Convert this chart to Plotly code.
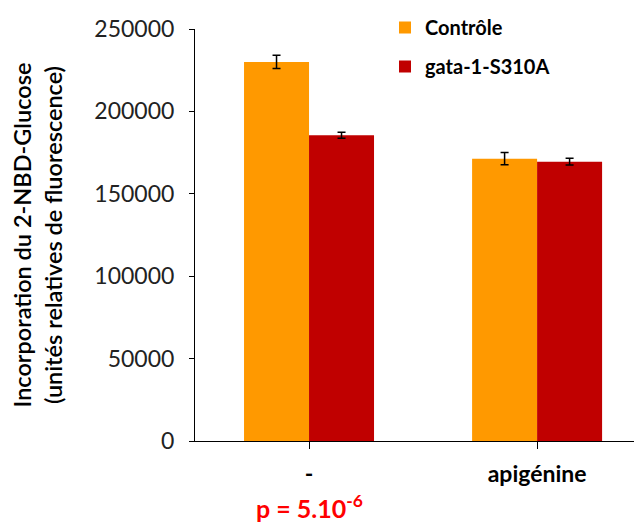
import plotly.graph_objects as go

categories = ["-", "apigénine"]
series_names = ["Contrôle", "gata-1-S310A"]
controle = [230000, 171300]
controle_err = [4000, 3700]
gata = [185500, 169500]
gata_err = [1800, 2000]
colors = ["#FF9900", "#C00000"]
y_ticks = [0, 50000, 100000, 150000, 200000, 250000]

FONT = "Lato"
W, H = 634, 514
L, T, B, R = 187, 21, 81, 0
PW, PH = W - L - R, H - T - B

fig = go.Figure()
for i, (name, vals, errs) in enumerate(zip(series_names, [controle, gata], [controle_err, gata_err])):
    fig.add_trace(go.Bar(
        x=[0, 1], y=vals, name=name, marker_color=colors[i],
        marker_line_width=0,
        error_y=dict(type="data", array=errs, color="black", thickness=1.5, width=4),
        legendgroup=name,
    ))

fig.update_layout(
    width=W, height=H,
    margin=dict(l=L, r=R, t=T, b=B, autoexpand=False),
    plot_bgcolor="white", paper_bgcolor="white",
    barmode="group", bargap=0.43, bargroupgap=0,
    font=dict(family=FONT, color="#222222"),
    legend=dict(x=(377 - L) / PW, y=1 + T / PH, xref="paper", yref="paper",
                xanchor="left", yanchor="top",
                font=dict(size=20, family=FONT, weight="bold", color="black"),
                tracegroupgap=10, bgcolor="rgba(0,0,0,0)", itemwidth=30),
    xaxis=dict(
        range=[-0.5, 1.46], tickmode="array", tickvals=[0, 1], ticktext=categories,
        tickfont=dict(size=23, family=FONT, weight="bold", color="black"),
        showline=True, linecolor="black", linewidth=1,
        ticks="outside", ticklen=7, tickcolor="black", tickson="boundaries",
        ticklabelstandoff=5, showgrid=False, zeroline=False,
    ),
    yaxis=dict(
        range=[0, 250000], tickvals=y_ticks, ticktext=[str(v) for v in y_ticks],
        tickfont=dict(size=23, family=FONT, color="#222222"),
        showline=True, linecolor="black", linewidth=1,
        ticks="outside", ticklen=5, tickcolor="black",
        ticklabelstandoff=10, showgrid=False, zeroline=False,
        title=dict(text="Incorporation du 2-NBD-Glucose<br>(unités relatives de fluorescence)",
                   font=dict(size=23.5, family=FONT, color="black", weight=600), standoff=30),
    ),
    annotations=[dict(
        x=0, y=-0.158, xref="x", yref="paper", showarrow=False,
        text="p = 5.10<sup>-6</sup>", font=dict(size=25, family=FONT, weight="bold", color="#FF0000"),
        yanchor="middle",
    )],
)

fig.write_html("out.html")
